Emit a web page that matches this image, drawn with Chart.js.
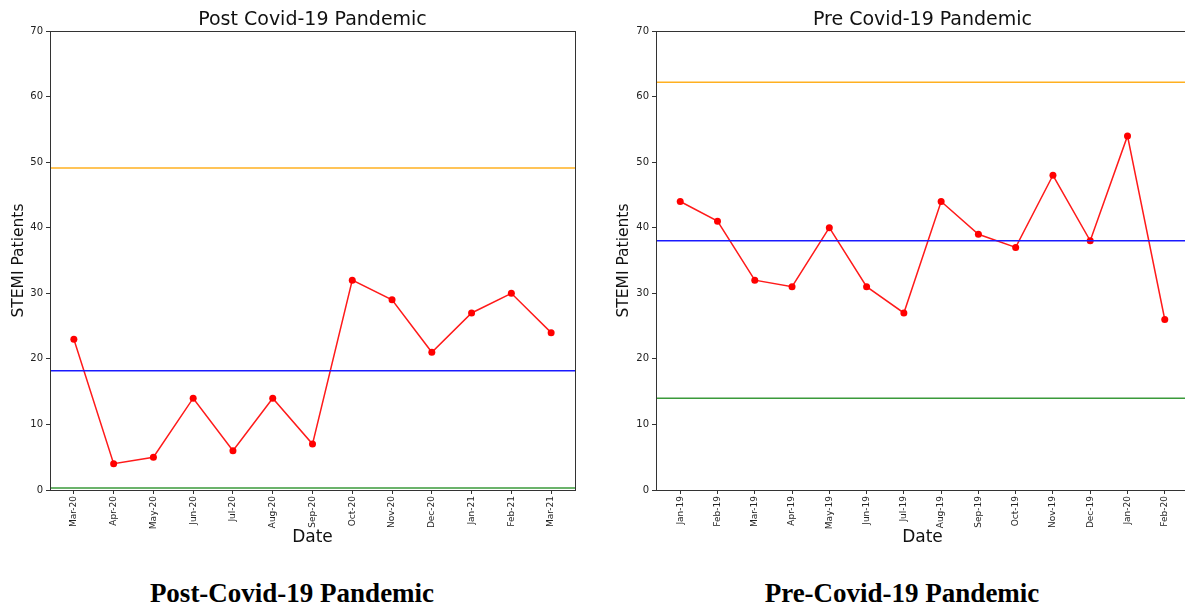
<!DOCTYPE html>
<html>
<head>
<meta charset="utf-8">
<script src="https://cdn.jsdelivr.net/npm/chart.js@4/dist/chart.umd.min.js"></script>
<style>
  html, body { margin: 0; padding: 0; background: #fff; overflow: hidden; width: 1185px; height: 607px; }
  .box { position: absolute; top: 0; height: 560px; overflow: hidden; }
  .box canvas { display: block; }
  .caption { position: absolute; top: 578px; font-family: "Liberation Serif", serif; font-weight: bold; font-size: 27px; color: #000; text-align: center; white-space: nowrap; }
</style>
</head>
<body>
<div class="box" style="left:0px;width:600px"><canvas id="post" width="600" height="560" style="width:600px;height:560px"></canvas></div>
<div class="box" style="left:600px;width:585px"><canvas id="pre" width="620" height="560" style="width:620px;height:560px"></canvas></div>
<div class="caption" style="left:92px;width:400px">Post-Covid-19 Pandemic</div>
<div class="caption" style="left:702px;width:400px">Pre-Covid-19 Pandemic</div>
<script>
// monthly STEMI counts after covid
var postLabels = ['Mar-20','Apr-20','May-20','Jun-20','Jul-20','Aug-20','Sep-20','Oct-20','Nov-20','Dec-20','Jan-21','Feb-21','Mar-21']
var postValues = [23, 4, 5, 14, 6, 14, 7, 32, 29, 21, 27, 30, 24]
var postUcl = 49.1
var postMean = 18.2
var postLcl = 0.3

// monthly STEMI counts before covid
var preLabels = ['Jan-19','Feb-19','Mar-19','Apr-19','May-19','Jun-19','Jul-19','Aug-19','Sep-19','Oct-19','Nov-19','Dec-19','Jan-20','Feb-20']
var preValues = [44, 41, 32, 31, 40, 31, 27, 44, 39, 37, 48, 38, 54, 26]
var preUcl = 62.2
var preMean = 38.0
var preLcl = 14.0

var yTicks = [0, 10, 20, 30, 40, 50, 60, 70]

var font = 'DejaVu Sans'

// box round the plot (all four sides) + title centred over the plot
var frame = {
    id: 'frame',
    afterDraw(chart, args, opts){
        const a = chart.chartArea
        const c = chart.ctx
        c.save()
        c.strokeStyle = '#333'
        c.lineWidth = 1
        c.strokeRect(Math.round(a.left) + 0.5, Math.round(a.top) + 0.5, Math.round(a.right - a.left), Math.round(a.bottom - a.top))
        c.fillStyle = '#111'
        c.font = '19px "' + font + '"'
        c.textAlign = 'center'
        c.textBaseline = 'middle'
        c.fillText(opts.text, (a.left + a.right) / 2, 20)
        c.restore()
    }
}

function hline(v, color, lo, hi){
    return {
        data: [{x: lo, y: v}, {x: hi, y: v}],
        borderColor: color,
        borderWidth: 1.5,
        pointRadius: 0,
        fill: false
    }
}

function drawChart(id, title, labels, values, ucl, mean, lcl, padLeft, yWidth, padRight){
    // 5% margin on each side like the old plot
    var m = (labels.length - 1) * 0.05
    var lo = -m
    var hi = labels.length - 1 + m
    var pts = []
    for(var i = 0; i < values.length; i++){
        pts.push({x: i, y: values[i]})
    }
    return new Chart(document.getElementById(id), {
        type: 'line',
        data: {
            datasets: [
                hline(ucl, '#ffb020', lo, hi),
                hline(mean, '#1a1aff', lo, hi),
                hline(lcl, '#3a9a3a', lo, hi),
                {
                    data: pts,
                    borderColor: '#ff1a1a',
                    borderWidth: 1.5,
                    pointRadius: 3.5,
                    pointBackgroundColor: '#ff0000',
                    pointBorderWidth: 0,
                    tension: 0,
                    fill: false
                }
            ]
        },
        options: {
            responsive: false,
            animation: false,
            layout: { padding: { left: padLeft, right: padRight, top: 31, bottom: 0 } },
            plugins: {
                legend: { display: false },
                tooltip: { enabled: false },
                title: { display: false },
                frame: { text: title }
            },
            scales: {
                x: {
                    type: 'linear',
                    min: lo,
                    max: hi,
                    afterBuildTicks: s => { s.ticks = labels.map((l, i) => ({ value: i })) },
                    afterFit: s => { s.height = 70 },
                    ticks: {
                        autoSkip: false,
                        minRotation: 90,
                        maxRotation: 90,
                        padding: 2,
                        color: '#222',
                        font: { family: font, size: 9 },
                        callback: v => labels[v]
                    },
                    grid: { display: true, drawOnChartArea: false, tickLength: 4, color: '#333' },
                    border: { display: false },
                    title: {
                        display: true,
                        text: 'Date',
                        color: '#111',
                        font: { family: font, size: 17 },
                        padding: { top: 0, bottom: 12 }
                    }
                },
                y: {
                    min: 0,
                    max: 70,
                    afterBuildTicks: s => { s.ticks = yTicks.map(v => ({ value: v })) },
                    afterFit: s => { s.width = yWidth },
                    ticks: {
                        padding: 3,
                        color: '#222',
                        font: { family: font, size: 10 }
                    },
                    grid: { display: true, drawOnChartArea: false, tickLength: 4, color: '#333' },
                    border: { display: false },
                    title: {
                        display: true,
                        text: 'STEMI Patients',
                        color: '#111',
                        font: { family: font, size: 15.5 },
                        padding: { top: 10, bottom: 10 }
                    }
                }
            }
        },
        plugins: [frame]
    })
}

drawChart('post', 'Post Covid-19 Pandemic', postLabels, postValues, postUcl, postMean, postLcl, 0, 50, 25)
drawChart('pre', 'Pre Covid-19 Pandemic', preLabels, preValues, preUcl, preMean, preLcl, 5, 51, 31)
</script>
</body>
</html>
